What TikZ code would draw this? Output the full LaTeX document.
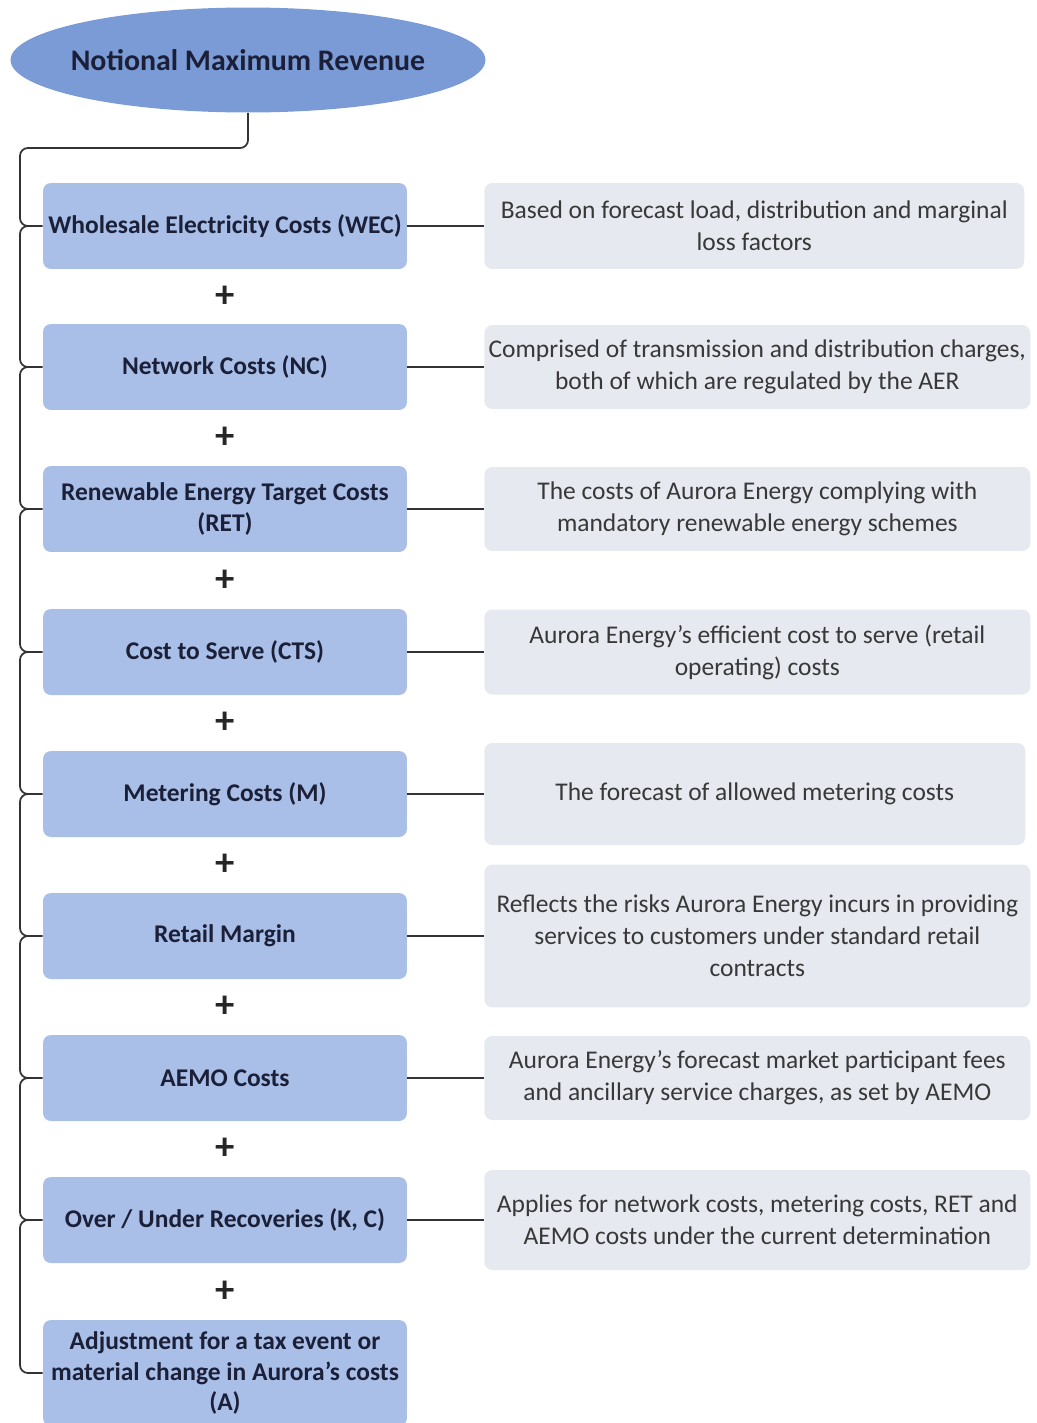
\documentclass[tikz,border=0pt]{standalone}
\usepackage{fontspec}
\setmainfont{Carlito}
\usetikzlibrary{shapes.geometric, calc}
\definecolor{revblue}{HTML}{7B9BD6}
\definecolor{costblue}{HTML}{A9BFE8}
\definecolor{notegray}{HTML}{E6E9F0}
\definecolor{inkdark}{HTML}{1B2038}
\definecolor{linegray}{HTML}{333333}

\begin{document}
\begin{tikzpicture}[x=0.02cm, y=-0.02cm,
  cost/.style={rounded corners=4.5pt, fill=costblue, align=center, minimum width=7.28cm,
    minimum height=1.72cm, inner sep=2pt, text=inkdark, font=\bfseries\fontsize{14.5}{17.6}\selectfont},
  note/.style={rounded corners=4.5pt, fill=notegray, align=center, anchor=west, minimum width=10.92cm,
    inner sep=2pt, text=black!78, font=\fontsize{14.5}{18.2}\selectfont},
  plus/.style={text=black!85, font=\bfseries\fontsize{22}{22}\selectfont},
  wire/.style={draw=linegray, line width=1pt},
  trunk/.style={wire, rounded corners=4.5pt}]
  \useasboundingbox (0,0) rectangle (1037,1423);

  % Top
  \node[ellipse, fill=revblue, minimum width=9.5cm, minimum height=2.1cm, inner xsep=-8pt, inner ysep=0pt,
    text=inkdark, font=\bfseries\fontsize{17}{20}\selectfont] (nmr) at (248,60) {Notional Maximum Revenue};

  % Cost blocks
  \node[cost] (wec) at (225,226) {Wholesale Electricity Costs (WEC)};
  \node[cost] (nc) at (225,367) {Network Costs (NC)};
  \node[cost] (ret) at (225,509) {Renewable Energy Target Costs\\(RET)};
  \node[cost] (cts) at (225,652) {Cost to Serve (CTS)};
  \node[cost] (met) at (225,794) {Metering Costs (M)};
  \node[cost] (rm) at (225,936) {Retail Margin};
  \node[cost] (aemo) at (225,1078) {AEMO Costs};
  \node[cost] (kc) at (225,1220) {Over / Under Recoveries (K, C)};
  \node[cost, minimum height=2.12cm] (adj) at (225,1373)
    {Adjustment for a tax event or\\material change in Aurora’s costs\\(A)};

  % Notes
  \node[note, minimum width=10.8cm, minimum height=1.72cm] (wecn) at (484,226)
    {Based on forecast load, distribution and marginal\\loss factors};
  \node[note, minimum height=1.68cm] (ncn) at (484,367)
    {Comprised of transmission and distribution charges,\\both of which are regulated by the AER};
  \node[note, minimum height=1.68cm] (retn) at (484,509)
    {The costs of Aurora Energy complying with\\mandatory renewable energy schemes};
  \node[note, minimum height=1.7cm] (ctsn) at (484,652)
    {Aurora Energy’s efficient cost to serve (retail\\operating) costs};
  \node[note, minimum width=10.82cm, minimum height=2.04cm] (metn) at (484,794)
    {The forecast of allowed metering costs};
  \node[note, minimum height=2.86cm] (rmn) at (484,936)
    {Reflects the risks Aurora Energy incurs in providing\\services to customers under standard retail\\contracts};
  \node[note, minimum height=1.68cm] (aemon) at (484,1078)
    {Aurora Energy’s forecast market participant fees\\and ancillary service charges, as set by AEMO};
  \node[note, minimum height=2cm] (kcn) at (484,1220)
    {Applies for network costs, metering costs, RET and\\AEMO costs under the current determination};

  % Plus signs
  \node[plus] (p1) at ($(wec.south)!0.5!(nc.north)$) {+};
  \node[plus] (p2) at ($(nc.south)!0.5!(ret.north)$) {+};
  \node[plus] (p3) at ($(ret.south)!0.5!(cts.north)$) {+};
  \node[plus] (p4) at ($(cts.south)!0.5!(met.north)$) {+};
  \node[plus] (p5) at ($(met.south)!0.5!(rm.north)$) {+};
  \node[plus] (p6) at ($(rm.south)!0.5!(aemo.north)$) {+};
  \node[plus] (p7) at ($(aemo.south)!0.5!(kc.north)$) {+};
  \node[plus] (p8) at ($(kc.south)!0.5!(adj.north)$) {+};

  % Spine
  \coordinate (spine) at (20,148);
  \draw[trunk] (nmr.south) |- (spine) |- (wec.west);
  \draw[trunk] ([xshift=-0.3cm]wec.west) -| (spine |- nc.west) -- (nc.west);
  \draw[trunk] ([xshift=-0.3cm]nc.west) -| (spine |- ret.west) -- (ret.west);
  \draw[trunk] ([xshift=-0.3cm]ret.west) -| (spine |- cts.west) -- (cts.west);
  \draw[trunk] ([xshift=-0.3cm]cts.west) -| (spine |- met.west) -- (met.west);
  \draw[trunk] ([xshift=-0.3cm]met.west) -| (spine |- rm.west) -- (rm.west);
  \draw[trunk] ([xshift=-0.3cm]rm.west) -| (spine |- aemo.west) -- (aemo.west);
  \draw[trunk] ([xshift=-0.3cm]aemo.west) -| (spine |- kc.west) -- (kc.west);
  \draw[trunk] ([xshift=-0.3cm]kc.west) -| (spine |- adj.west) -- (adj.west);

  % Links to notes
  \draw[wire] (wec) -- (wecn);
  \draw[wire] (nc) -- (ncn);
  \draw[wire] (ret) -- (retn);
  \draw[wire] (cts) -- (ctsn);
  \draw[wire] (met) -- (metn);
  \draw[wire] (rm) -- (rmn);
  \draw[wire] (aemo) -- (aemon);
  \draw[wire] (kc) -- (kcn);
\end{tikzpicture}
\end{document}
